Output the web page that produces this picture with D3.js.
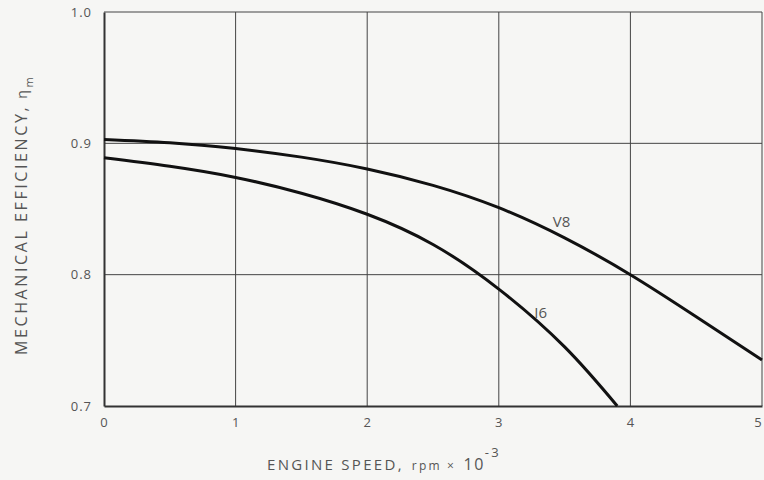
<!DOCTYPE html>
<html>
<head>
<meta charset="utf-8">
<script src="https://cdn.jsdelivr.net/npm/d3@7"></script>
<style>
  html, body { margin: 0; padding: 0; background: #f6f6f4; }
  svg { display: block; }
  text { font-family: "Open Sans", "DejaVu Sans", sans-serif; fill: #555; }
</style>
</head>
<body>
<svg id="chart" width="764" height="480"></svg>
<script>
// Engine speed (rpm x 10^-3) and mechanical efficiency for two engines
const v8Speed = [0, 0.5, 1, 1.5, 2, 2.5, 3, 3.5, 4, 4.5, 5];
const v8Eff   = [0.903, 0.9005, 0.896, 0.8895, 0.8805, 0.868, 0.851, 0.828, 0.800, 0.768, 0.735];

const i6Speed = [0, 0.5, 1, 1.5, 2, 2.5, 3, 3.5, 3.9];
const i6Eff   = [0.889, 0.8825, 0.874, 0.862, 0.846, 0.823, 0.789, 0.745, 0.700];

const xTicks = [0, 1, 2, 3, 4, 5];
const yTicks = [0.7, 0.8, 0.9, 1.0];

const curveLabels = [
  { name: "V8", speed: 3.41, eff: 0.836 },
  { name: "I6", speed: 3.27, eff: 0.767 }
];

const svg = d3.select("#chart");
const margin = { left: 104, right: 2, top: 12, bottom: 74 };
const W = 764, H = 480;

const x = d3.scaleLinear().domain([0, 5]).range([margin.left, W - margin.right]);
const y = d3.scaleLinear().domain([0.7, 1.0]).range([H - margin.bottom, margin.top]);

// grid lines
const grid = svg.append("g");
grid.selectAll("line.v").data(xTicks.slice(1)).join("line")
  .attr("x1", d => x(d)).attr("x2", d => x(d))
  .attr("y1", y(1.0)).attr("y2", y(0.7))
  .attr("stroke", "#444").attr("stroke-width", 1);
grid.selectAll("line.h").data(yTicks.slice(1)).join("line")
  .attr("x1", x(0)).attr("x2", x(5))
  .attr("y1", d => y(d)).attr("y2", d => y(d))
  .attr("stroke", "#444").attr("stroke-width", 1);

// axes
const xAxis = d3.axisBottom(x).tickValues(xTicks).tickFormat(d3.format("d")).tickSize(0).tickPadding(12);
const yAxis = d3.axisLeft(y).tickValues(yTicks).tickFormat(d3.format(".1f")).tickSize(0).tickPadding(12);

const gx = svg.append("g").attr("transform", `translate(0,${y(0.7)})`).call(xAxis);
const gy = svg.append("g").attr("transform", `translate(${x(0)},0)`).call(yAxis);
[gx, gy].forEach(g => {
  g.select(".domain").attr("stroke", "#333").attr("stroke-width", 2);
  g.selectAll(".tick text").attr("font-size", 13).attr("fill", "#666")
    .attr("font-family", "'Open Sans', sans-serif").attr("letter-spacing", 1);
});
// keep the last speed label inside the frame
gx.selectAll(".tick text").filter(d => d === 5).attr("dx", -4);

// curves
const line = d3.line().x(d => x(d[0])).y(d => y(d[1])).curve(d3.curveNatural);
const series = [
  d3.zip(v8Speed, v8Eff),
  d3.zip(i6Speed, i6Eff)
];
svg.append("g").selectAll("path").data(series).join("path")
  .attr("d", line)
  .attr("fill", "none")
  .attr("stroke", "#111")
  .attr("stroke-width", 3)
  .attr("stroke-linejoin", "round");

// curve labels
svg.append("g").selectAll("text").data(curveLabels).join("text")
  .attr("x", d => x(d.speed)).attr("y", d => y(d.eff))
  .attr("font-size", 15).attr("fill", "#555")
  .text(d => d.name);

// x axis title
const xt = svg.append("text").attr("x", 267).attr("y", 470).attr("font-size", 15)
  .attr("letter-spacing", 2.3).attr("fill", "#555");
xt.append("tspan").text("ENGINE SPEED,");
xt.append("tspan").attr("dx", 8).attr("font-size", 12).attr("letter-spacing", 2.2).text("rpm × ");
xt.append("tspan").attr("dx", 2).attr("font-size", 16).attr("letter-spacing", 1.5).text("10");
xt.append("tspan").attr("font-size", 13).attr("dy", -13).text("-3");

// y axis title
const yt = svg.append("text")
  .attr("transform", "translate(27,355) rotate(-90)")
  .attr("font-size", 16).attr("letter-spacing", 2.6).attr("fill", "#555");
yt.append("tspan").text("MECHANICAL EFFICIENCY,");
yt.append("tspan").attr("dx", 6).attr("font-size", 14).text("η");
yt.append("tspan").attr("dy", 6).attr("font-size", 11).text("m");
</script>
</body>
</html>
